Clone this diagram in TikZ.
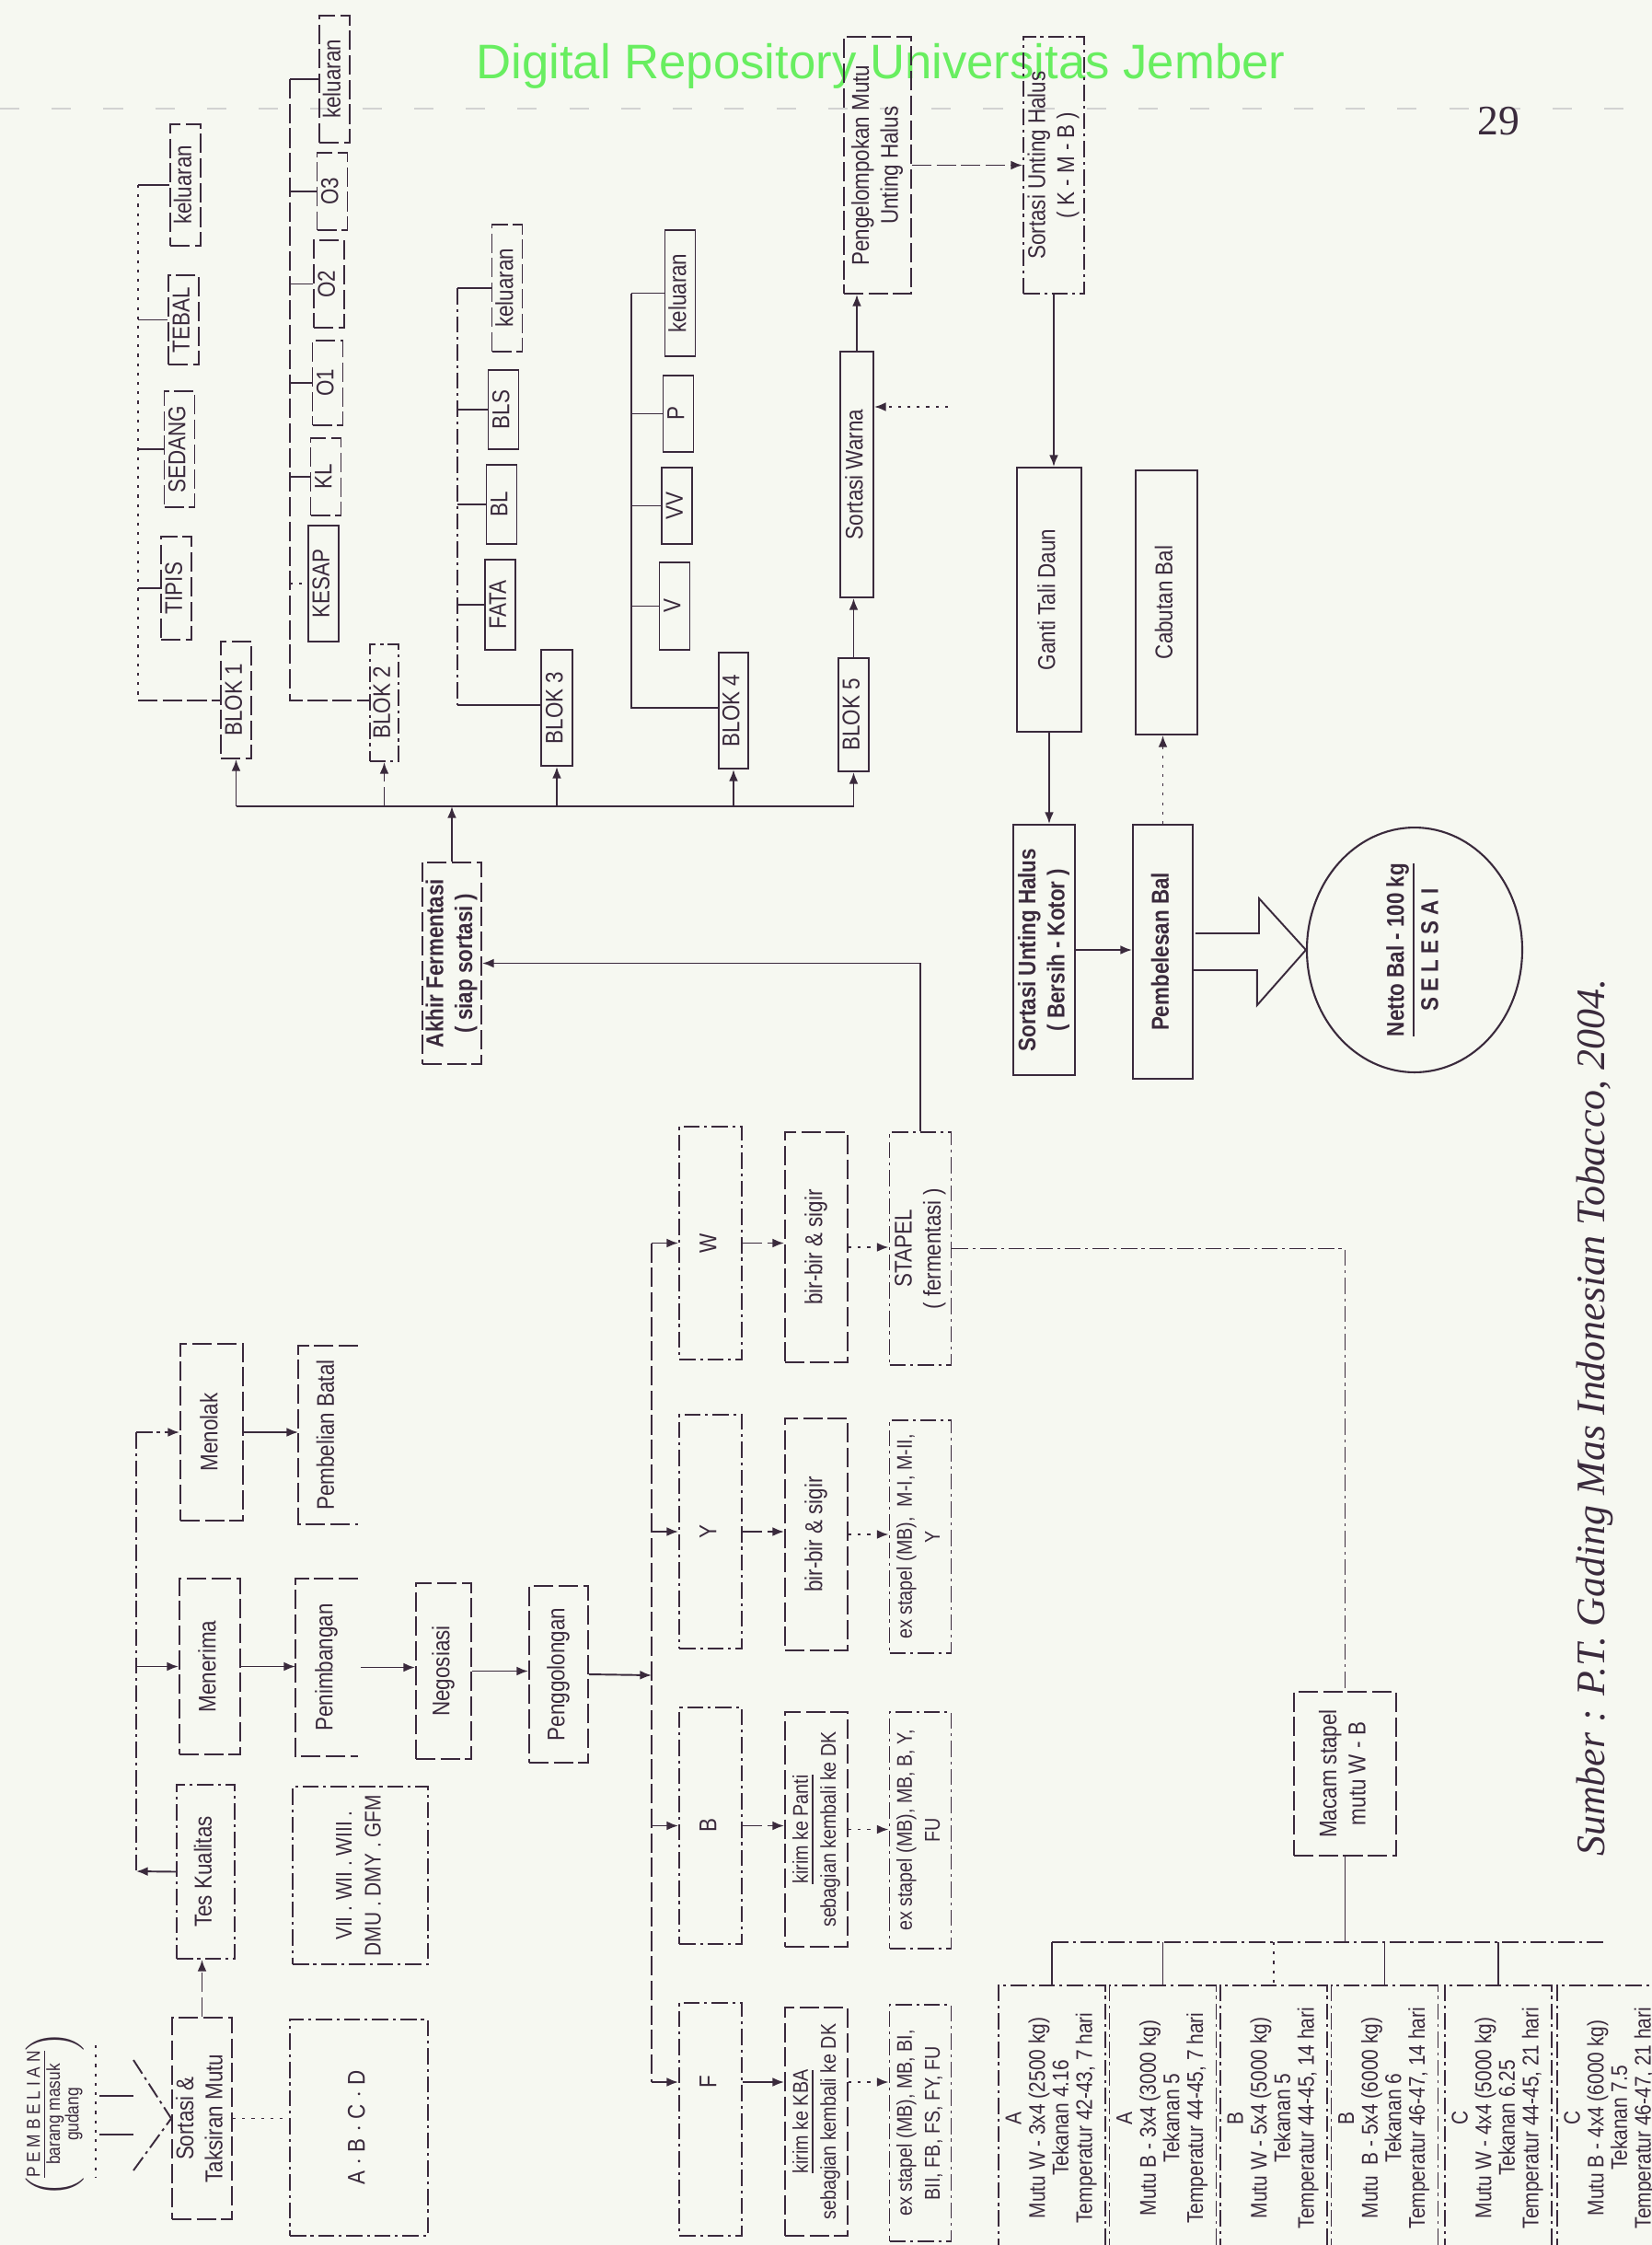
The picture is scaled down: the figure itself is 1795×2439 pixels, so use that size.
\documentclass[tikz,border=0pt]{standalone}
\usepackage{fontspec}
\setmainfont{Liberation Serif}
\newfontfamily\dfont{Liberation Sans}[FakeStretch=0.85]
\newfontfamily\hfont{Liberation Sans}
\usetikzlibrary{arrows.meta, shapes.geometric}
\definecolor{ink}{RGB}{58,42,60}
\definecolor{paper}{RGB}{246,248,241}
\definecolor{repgreen}{RGB}{104,238,96}
% rotated text, read from bottom to top
\newcommand{\rtx}[1]{\rotatebox{90}{\begin{tabular}{@{}c@{}}#1\end{tabular}}}
\tikzset{
  bx/.style={draw=ink, text=ink, line width=.55pt, inner sep=0pt,
    font=\dfont\fontsize{7.5}{9}\selectfont},
  sz/.style 2 args={minimum width=#1mm, minimum height=#2mm},
  sol/.style={bx},
  dsh/.style={bx, dash pattern=on 6pt off 1.6pt},
  dsd/.style={bx, dash pattern=on 5pt off 1.4pt on .9pt off 1.4pt},
  mbx/.style={dsd, sz={11.6}{28.8}, font=\dfont\fontsize{7}{7.3}\selectfont},
  small/.style={font=\dfont\fontsize{6.6}{8.6}\selectfont},
  ln/.style={draw=ink, line width=.55pt},
  arr/.style={ln, -{Latex[length=3.6pt,width=2.8pt]}},
  lnd/.style={dash pattern=on 6pt off 1.6pt},
  lndd/.style={dash pattern=on 5pt off 1.4pt on .9pt off 1.4pt},
  lndot/.style={dash pattern=on .9pt off 2pt},
}

\begin{document}
\begin{tikzpicture}[x=0.1mm, y=-0.1mm]
\useasboundingbox (0,0) rectangle (1795,2439);
\fill[paper] (0,0) rectangle (1795,2439);
\clip (0,0) rectangle (1795,2439);

% page head
\node[text=repgreen, font=\hfont\fontsize{15}{15}\selectfont] (repo) at (957,72) {Digital Repository Universitas Jember};
\draw[gray!35, line width=.5pt, dash pattern=on 6pt off 10pt] (0,118) -- (1795,118);
\node[text=ink, font=\fontsize{13}{13}\selectfont] (hal) at (1628,132) {29};

% pembelian
\node[text=ink, inner sep=0pt, font=\dfont\fontsize{5.8}{5.1}\selectfont] (beli) at (60,2297)
  {\rotatebox{90}{$\left(\begin{tabular}{@{}c@{}}\underline{P E M B E L I A N}\\ barang masuk\\ gudang\end{tabular}\right)$}};
\node[dsh, sz={6.5}{21.9}] (sortasi) at (219.5,2301.5) {\rtx{Sortasi \&\\ Taksiran Mutu}};
\node[dsd, sz={6.3}{18.9}] (tes) at (223.5,2033.5) {\rtx{Tes Kualitas}};
\node[dsh, sz={6.6}{19.1}] (terima) at (228,1810.5) {\rtx{Menerima}};
\node[dsh, sz={6.8}{19.2}] (tolak) at (230,1556) {\rtx{Menolak}};
\node[bx, draw=none, sz={6.3}{19.2}] (batal) at (356.5,1559) {\rtx{Pembelian Batal}};
\node[bx, draw=none, sz={6.6}{19.1}] (timbang) at (355,1811.5) {\rtx{Penimbangan}};
\draw[ln, lnd] (batal.north east) -| (batal.south west) -- (batal.south east);
\draw[ln, lnd] (timbang.north east) -| (timbang.south west) -- (timbang.south east);
\node[dsd, sz={14.7}{19.3}, font=\dfont\fontsize{7}{9}\selectfont] (kelas) at (391.5,2037.5) {\rtx{VII . WII . WIII .\\ DMU . DMY . GFM}};
\node[dsd, sz={15}{23.5}] (abcd) at (390,2311.5) {\rtx{A $\cdot$ B $\cdot$ C $\cdot$ D}};
\node[dsh, sz={6}{19.1}] (nego) at (482,1815.5) {\rtx{Negosiasi}};
\node[dsh, sz={6.4}{19.2}] (golong) at (607,1819) {\rtx{Penggolongan}};

% funnel
\coordinate (f1) at (104,2222);
\coordinate (f2) at (104,2365);
\coordinate (f3) at (145,2238);
\coordinate (f4) at (145,2358);
\draw[ln, lndot] (f1) -- (f2);
\draw[ln] (108,2277) -- (145,2277);
\draw[ln] (108,2319) -- (145,2319);
\draw[ln, lndd] (f3) -- (sortasi.west);
\draw[ln, lndd] (f4) -- (sortasi.west);

\coordinate (sp) at (148,2033);
\draw[ln, lndd] (sp |- tolak) -- (sp);
\draw[arr] (tes.west) -- (sp);
\draw[arr] (sp |- terima) -- (terima.west);
\draw[arr, lndd] (sp |- tolak) -- (tolak.west);
\draw[arr, lnd] (sortasi.north) -- (sortasi.north |- tes.south);
\draw[ln, lndot] (sortasi.east) -- (sortasi.east -| abcd.west);
\draw[arr] (terima.east) -- (terima.east -| timbang.west);
\draw[arr] (tolak.east) -- (tolak.east -| batal.west);
\draw[arr] (timbang.east) ++(3,0) -- (timbang.east -| nego.west);
\draw[arr] (nego.east) -- (nego.east -| golong.west);

% penggolongan
\node[dsd, sz={6.8}{25.3}] (kw) at (772,1350.5) {\rtx{W}};
\node[dsd, sz={6.8}{25.4}] (ky) at (772,1664) {\rtx{Y}};
\node[dsd, sz={6.8}{25.7}] (kb) at (772,1983.5) {\rtx{B}};
\node[dsd, sz={6.8}{25.3}] (kf) at (772,2302.5) {};
\node[text=ink, inner sep=0pt, font=\dfont\fontsize{7.5}{9}\selectfont] (kftxt) at (772,2262) {\rtx{F}};
\node[dsh, sz={6.8}{25}] (bw) at (887,1355) {\rtx{bir-bir \& sigir}};
\node[dsh, sz={6.8}{25.2}] (by) at (887,1667) {\rtx{bir-bir \& sigir}};
\node[dsh, small, sz={6.8}{25.5}] (panti) at (887,1987.5) {\rtx{\underline{kirim ke Panti}\\ sebagian kembali ke DK}};
\node[dsh, small, sz={6.8}{24.8}] (kba) at (887,2305) {\rtx{\underline{kirim ke KBA}\\ sebagian kembali ke DK}};
\node[dsd, sz={6.7}{25.3}] (stapel) at (1000,1356.5) {\rtx{STAPEL\\ ( fermentasi )}};
\node[dsd, small, sz={6.7}{25.3}] (exy) at (1000,1669.5) {\rtx{ex stapel (MB),~ M-I, M-II,\\ Y}};
\node[dsd, small, sz={6.7}{25.7}] (exb) at (1000,1988.5) {\rtx{ex stapel (MB), MB, B, Y,\\ FU}};
\node[dsd, small, sz={6.7}{25.7}] (exf) at (1000,2306.5) {\rtx{ex stapel (MB), MB, BI,\\ BII, FB, FS, FY, FU}};

\coordinate (tr) at (708,1820);
\draw[arr] (golong.east) -- (tr);
\draw[ln, lnd] (tr |- kw) -- (tr |- kftxt);
\draw[arr] (tr |- kw) -- (kw.west);
\draw[arr, lnd] (tr |- ky) -- (ky.west);
\draw[arr, lnd] (tr |- kb) -- (kb.west);
\draw[arr] (tr |- kftxt) -- (kftxt -| kf.west);
\draw[arr, lnd] (kw.east) -- (kw.east -| bw.west);
\draw[arr, lndot] (bw.east) -- (bw.east -| stapel.west);
\draw[arr, lnd] (ky.east) -- (ky.east -| by.west);
\draw[arr, lndot] (by.east) -- (by.east -| exy.west);
\draw[arr, lnd] (kb.east) -- (kb.east -| panti.west);
\draw[arr, lndot] (panti.east) -- (panti.east -| exb.west);
\draw[arr] (kftxt -| kf.east) -- (kftxt -| kba.west);
\draw[arr, lndot] (kftxt -| kba.east) -- (kftxt -| exf.west);

% fermentasi & blok
\node[dsh, sz={6.4}{21.9}, font=\dfont\bfseries\fontsize{7.5}{9}\selectfont] (akhir) at (491,1046.5) {\rtx{Akhir Fermentasi\\ ( siap sortasi )}};
\draw[arr] (stapel.north) |- (akhir.east);

\node[dsh, sz={3.3}{12.7}] (blok1) at (256.5,760.5) {\rtx{BLOK 1}};
\node[dsd, sz={3.1}{12.7}] (blok2) at (417.5,763.5) {\rtx{BLOK 2}};
\node[sol, sz={3.4}{12.6}] (blok3) at (605,769) {\rtx{BLOK 3}};
\node[sol, sz={3.2}{12.6}] (blok4) at (797,772) {\rtx{BLOK 4}};
\node[sol, sz={3.3}{12.3}] (blok5) at (927.5,776.5) {\rtx{BLOK 5}};

\coordinate (hub) at (493,876);
\draw[ln] (blok1 |- hub) -- (blok5 |- hub);
\foreach \b in {blok1,blok3,blok4,blok5}
  \draw[arr] (\b |- hub) -- (\b.south);
\draw[arr, lnd] (blok2 |- hub) -- (blok2.south);
\draw[arr] (akhir.north) -- (akhir.north |- hub);

% hasil blok
\foreach \nm/\cx/\cy/\hh/\tx in {k1out/201.5/201/13.2/keluaran, tebal/199.5/347.5/9.7/TEBAL,
    sedang/195/488/12.6/SEDANG, tipis/191.5/639/11.2/TIPIS,
    k2out/363.5/86/13.8/keluaran, o3/361/208/8.4/O3, o2/357.5/308.5/9.5/O2,
    o1/356/416/9.2/O1, kl/354/518/8.4/KL, k3out/551/313/13.8/keluaran}
  \node[dsh, sz={3.3}{\hh}] (\nm) at (\cx,\cy) {\rtx{\tx}};
\foreach \nm/\cx/\cy/\hh/\tx in {kesap/351.5/634/12.6/KESAP,
    bls/547/445/8.6/BLS, bl/545/548/8.6/BL, fata/543.5/657/9.8/FATA,
    k4out/739/318.5/13.7/keluaran, p/737/449.5/8.3/P, vv/735.5/549.5/8.3/VV, v/733/658.5/9.5/V}
  \node[sol, sz={3.3}{\hh}] (\nm) at (\cx,\cy) {\rtx{\tx}};

\coordinate (bus1) at (150,761);
\coordinate (bus2) at (315,761);
\coordinate (bus3) at (497,766);
\coordinate (bus4) at (686,769);
\draw[ln, lndot] (bus1 |- k1out) -- (bus1);
\draw[ln, lnd] (bus1) -- (bus1 -| blok1.west);
\foreach \n in {k1out,tebal,sedang,tipis}
  \draw[ln] (bus1 |- \n) -- (\n.west);
\draw[ln, lnd] (bus2 |- k2out) -- (bus2) -- (bus2 -| blok2.west);
\foreach \n in {k2out,o3,o2,o1,kl}
  \draw[ln] (bus2 |- \n) -- (\n.west);
\draw[ln, lndot] (bus2 |- kesap) -- (kesap.west);
\draw[ln, lndd] (bus3 |- k3out) -- (bus3);
\draw[ln] (bus3) -- (bus3 -| blok3.west);
\foreach \n in {k3out,bls,bl,fata}
  \draw[ln] (bus3 |- \n) -- (\n.west);
\draw[ln] (bus4 |- k4out) -- (bus4) -- (bus4 -| blok4.west);
\foreach \n in {k4out,p,vv,v}
  \draw[ln] (bus4 |- \n) -- (\n.west);

% unting halus
\node[sol, sz={3.6}{26.7}] (sw) at (931,515.5) {\rtx{Sortasi Warna}};
\node[dsh, sz={7.3}{27.9}] (pmuh) at (953.5,179.5) {\rtx{Pengelompokan Mutu\\ Unting Halus}};
\node[dsd, sz={6.6}{27.9}] (kmb) at (1145,179.5) {\rtx{Sortasi Unting Halus\\ ( K - M - B )}};
\node[sol, sz={7}{28.7}] (ganti) at (1140,651.5) {\rtx{Ganti Tali Daun}};
\node[sol, sz={6.7}{28.7}] (cabut) at (1267.5,654.5) {\rtx{Cabutan Bal}};
\node[sol, sz={6.7}{27.2}, font=\dfont\bfseries\fontsize{7.5}{9}\selectfont] (suh) at (1134.5,1032) {\rtx{Sortasi Unting Halus\\ ( Bersih - Kotor )}};
\node[sol, sz={6.5}{27.6}, font=\dfont\bfseries\fontsize{7.5}{9}\selectfont] (pbal) at (1263.5,1034) {\rtx{Pembelesan Bal}};
\node[draw=ink, text=ink, line width=.6pt, ellipse, minimum width=23.4mm, minimum height=21mm, inner sep=0pt,
  font=\dfont\bfseries\fontsize{7.5}{10}\selectfont] (selesai) at (1537,1032) {\rtx{\underline{Netto Bal - 100 kg}\\ S E L E S A I}};

\coordinate (swin) at (1030,442);
\draw[arr, lndot] (swin) -- (swin -| sw.east);
\draw[arr] (blok5.north) -- (blok5.north |- sw.south);
\draw[arr] (sw.north) -- (sw.north |- pmuh.south);
\draw[arr, lnd] (pmuh.east) -- (pmuh.east -| kmb.west);
\draw[arr] (kmb.south) -- (kmb.south |- ganti.north);
\draw[arr] (ganti.south) -- (ganti.south |- suh.north);
\draw[arr] (suh.east) -- (suh.east -| pbal.west);
\draw[arr, lndot] (pbal.north) -- (pbal.north |- cabut.south);
\draw[ln, line join=miter] (pbal.east) ++(2,-20) -- ++(69,0) -- ++(0,-38) -- (selesai.west)
  -- ++(-53,60) -- ++(0,-38) -- ++(-69,0);

% macam stapel
\node[dsh, sz={11.1}{17.8}] (macam) at (1461.5,1927) {\rtx{Macam stapel\\ mutu W - B}};
\draw[ln, lndd] (stapel.east) -| (macam.north);
\node[mbx] (mutu1) at (1143,2301) {\rtx{A\\ Mutu W - 3x4 (2500 kg)\\ Tekanan 4.16\\ Temperatur 42-43, 7 hari}};
\node[mbx] (mutu2) at (1263.5,2301) {\rtx{A\\ Mutu B - 3x4 (3000 kg)\\ Tekanan 5\\ Temperatur 44-45, 7 hari}};
\node[mbx] (mutu3) at (1384,2301) {\rtx{B\\ Mutu W - 5x4 (5000 kg)\\ Tekanan 5\\ Temperatur 44-45, 14 hari}};
\node[mbx] (mutu4) at (1504.5,2301) {\rtx{B\\ Mutu~ B - 5x4 (6000 kg)\\ Tekanan 6\\ Temperatur 46-47, 14 hari}};
\node[mbx] (mutu5) at (1628,2301) {\rtx{C\\ Mutu W - 4x4 (5000 kg)\\ Tekanan 6.25\\ Temperatur 44-45, 21 hari}};
\node[mbx] (mutu6) at (1750,2301) {\rtx{C\\ Mutu B - 4x4 (6000 kg)\\ Tekanan 7.5\\ Temperatur 46-47, 21 hari}};
\coordinate (mbus) at (1459,2110);
\coordinate (mend) at (1745,2110);
\draw[ln] (macam.south) -- (macam.south |- mbus);
\draw[ln, lndd] (mutu1 |- mbus) -- (mend);
\foreach \m in {mutu1,mutu2,mutu4,mutu5}
  \draw[ln] (\m |- mbus) -- (\m.north);
\draw[ln, lndot] (mutu3 |- mbus) -- (mutu3.north);

% sumber
\node[text=ink, rotate=90, font=\itshape\fontsize{12.5}{13}\selectfont] (sumber) at (1733,1540)
  {Sumber : P.T. Gading Mas Indonesian Tobacco, 2004.};
\end{tikzpicture}
\end{document}
